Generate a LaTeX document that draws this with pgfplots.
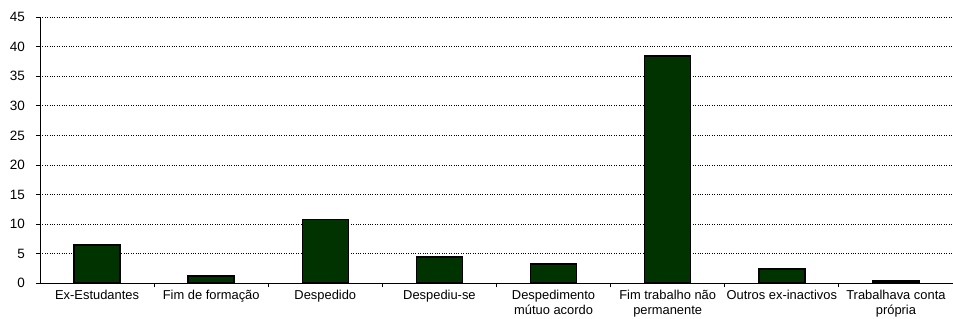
\documentclass[border=0pt]{standalone}
\usepackage{fontspec}
\setmainfont{Liberation Sans}
\usepackage{pgfplots}
\pgfplotsset{compat=1.18}
\definecolor{barg}{RGB}{0,51,0}
\begin{document}
\begin{tikzpicture}
\begin{axis}[
 at={(0,0)}, anchor=south west,
 scale only axis, width=913bp, height=266.3bp,
 xmin=-0.5, xmax=7.5, ymin=0, ymax=45,
 ytick={0,5,...,45},
 axis x line*=bottom, axis y line*=left,
 axis line style={black, line width=0.9bp},
 ymajorgrids, grid style={black, dotted, line width=0.6bp},
 tick align=outside,
 major tick length=4bp,
 tick style={black, line width=0.8bp},
 xtick={0.5,1.5,...,6.5},
 xticklabels={},
 extra x ticks={0,1,2,3,4,5,6,7},
 extra x tick labels={Ex-Estudantes, Fim de formação, Despedido, Despediu-se, {Despedimento\\mútuo acordo}, {Fim trabalho não\\permanente}, Outros ex-inactivos, {Trabalhava conta\\própria}},
 extra x tick style={major tick length=0pt, xticklabel style={align=center, font=\fontsize{12.9bp}{15bp}\selectfont, anchor=north, inner sep=0pt, yshift=-7bp}},
 yticklabel style={font=\fontsize{13.5bp}{15bp}\selectfont, anchor=east, inner sep=0pt, xshift=-11bp},
 /pgf/number format/assume math mode=true,
]
\addplot[ybar, bar width=46bp, fill=barg, draw=black, line width=1.6bp] coordinates {(0,6.5) (1,1.2) (2,10.8) (3,4.4) (4,3.3) (5,38.4) (6,2.4) (7,0.4)};
\end{axis}
\pgfresetboundingbox
\path (-40bp,-35.7bp) rectangle (913bp,283.3bp);
\end{tikzpicture}
\end{document}
